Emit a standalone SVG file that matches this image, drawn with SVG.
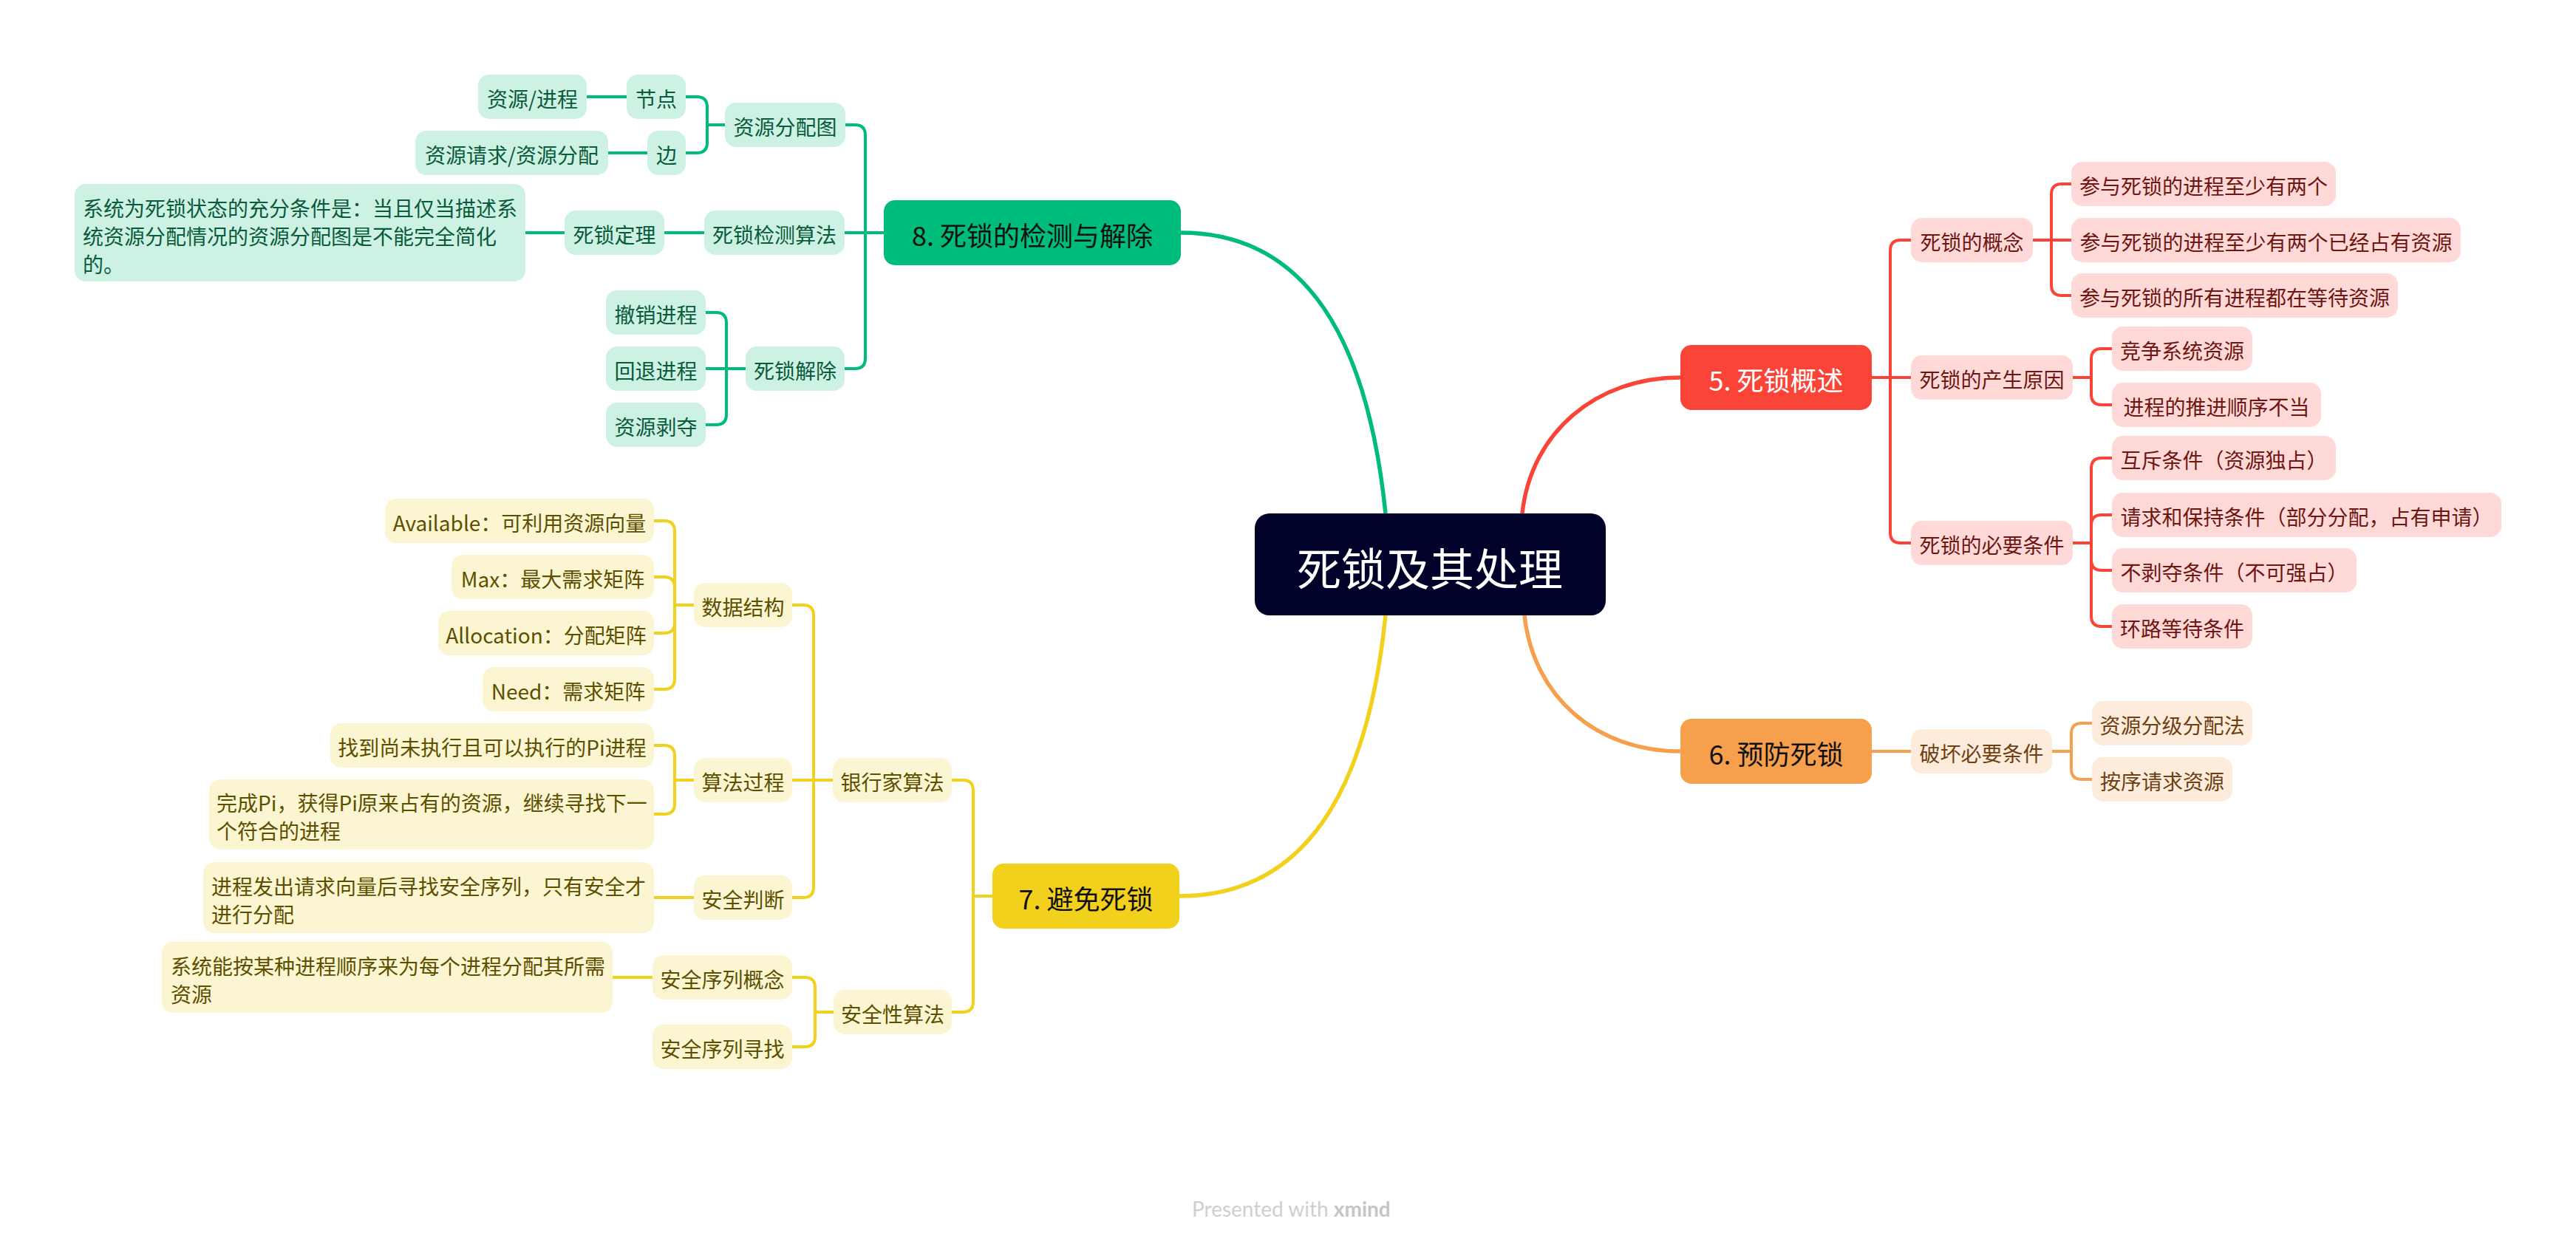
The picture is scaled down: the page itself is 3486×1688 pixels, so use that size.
<svg xmlns="http://www.w3.org/2000/svg" width="3486" height="1688" viewBox="0 0 3486 1688">
<style>
.bg{fill:#FFFFFF}
.t{font-family:"Noto Sans CJK SC","Noto Sans",sans-serif;font-size:28px;dominant-baseline:central;text-anchor:middle}
.tl{text-anchor:start}
.tb{font-family:"Noto Sans CJK SC","Noto Sans",sans-serif;font-size:36px;dominant-baseline:central;text-anchor:middle}
.tc{font-family:"Noto Sans CJK SC","Noto Sans",sans-serif;font-size:60px;dominant-baseline:central;text-anchor:middle;fill:#FFFFFF}
.ng rect{fill:#CDF2E4}.ng text{fill:#0A5A3C}
.nr rect{fill:#FED9D7}.nr text{fill:#6E1612}
.no rect{fill:#FDEBDB}.no text{fill:#6E3F12}
.ny rect{fill:#FCF5D2}.ny text{fill:#5C5000}
.lg{fill:none;stroke:#00BC7B;stroke-width:4}
.lr{fill:none;stroke:#FA4438;stroke-width:4}
.lo{fill:none;stroke:#F6A04D;stroke-width:4}
.ly{fill:none;stroke:#F2D11D;stroke-width:4}
.mc{stroke-width:5.5}
.foot{font-family:Lato,"Noto Sans",sans-serif;font-size:28px;fill:#CFCFCF}
</style>
<rect class="bg" x="0" y="0" width="3486" height="1688"/>
<g id="connectors">
<path class="lg mc" d="M1875 695 C1855 500 1790 315 1598 315"/>
<path class="lr mc" d="M2060 695 C2072 585 2160 511 2274 511"/>
<path class="ly mc" d="M1875 833 C1855 1028 1790 1213 1596 1213"/>
<path class="lo mc" d="M2063 833 C2075 943 2160 1017 2274 1017"/>
<path class="lg" d="M1196 315 H1171 V183 Q1171 169 1157 169 H1143"/>
<path class="lg" d="M1196 315 H1143"/>
<path class="lg" d="M1196 315 H1171 V485 Q1171 499 1157 499 H1143"/>
<path class="lg" d="M981 169 H957 V145 Q957 131 943 131 H928"/>
<path class="lg" d="M981 169 H957 V193 Q957 207 943 207 H928"/>
<path class="lg" d="M848 131 H794"/>
<path class="lg" d="M876 207 H823"/>
<path class="lg" d="M953 315 H899"/>
<path class="lg" d="M764 315 H711"/>
<path class="lg" d="M1009 499 H983 V437 Q983 423 969 423 H955"/>
<path class="lg" d="M1009 499 H955"/>
<path class="lg" d="M1009 499 H983 V561 Q983 575 969 575 H955"/>
<path class="lr" d="M2533 511 H2558 V339 Q2558 325 2572 325 H2586"/>
<path class="lr" d="M2533 511 H2586"/>
<path class="lr" d="M2533 511 H2558 V721 Q2558 735 2572 735 H2586"/>
<path class="lr" d="M2751 325 H2776 V263 Q2776 249 2790 249 H2803"/>
<path class="lr" d="M2751 325 H2803"/>
<path class="lr" d="M2751 325 H2776 V386 Q2776 400 2790 400 H2803"/>
<path class="lr" d="M2805 511 H2830 V486 Q2830 472 2844 472 H2858"/>
<path class="lr" d="M2805 511 H2830 V534 Q2830 548 2844 548 H2858"/>
<path class="lr" d="M2805 735 H2830 V634 Q2830 620 2844 620 H2858"/>
<path class="lr" d="M2805 735 H2830 V711 Q2830 697 2844 697 H2858"/>
<path class="lr" d="M2805 735 H2830 V758 Q2830 772 2844 772 H2858"/>
<path class="lr" d="M2805 735 H2830 V834 Q2830 848 2844 848 H2858"/>
<path class="lo" d="M2533 1017 H2586"/>
<path class="lo" d="M2777 1017 H2803 V993 Q2803 979 2817 979 H2831"/>
<path class="lo" d="M2777 1017 H2803 V1041 Q2803 1055 2817 1055 H2831"/>
<path class="ly" d="M1343 1213 H1317 V1070 Q1317 1056 1303 1056 H1288"/>
<path class="ly" d="M1343 1213 H1317 V1356 Q1317 1370 1303 1370 H1288"/>
<path class="ly" d="M1127 1056 H1101 V833 Q1101 819 1087 819 H1072"/>
<path class="ly" d="M1127 1056 H1072"/>
<path class="ly" d="M1127 1056 H1101 V1201 Q1101 1215 1087 1215 H1072"/>
<path class="ly" d="M939 819 H913 V719 Q913 705 899 705 H885"/>
<path class="ly" d="M939 819 H913 V795 Q913 781 899 781 H885"/>
<path class="ly" d="M939 819 H913 V843 Q913 857 899 857 H885"/>
<path class="ly" d="M939 819 H913 V919 Q913 933 899 933 H885"/>
<path class="ly" d="M939 1056 H913 V1023 Q913 1009 899 1009 H885"/>
<path class="ly" d="M939 1056 H913 V1088 Q913 1102 899 1102 H885"/>
<path class="ly" d="M939 1215 H885"/>
<path class="ly" d="M1128 1370 H1103 V1337 Q1103 1323 1089 1323 H1072"/>
<path class="ly" d="M1128 1370 H1103 V1403 Q1103 1417 1089 1417 H1072"/>
<path class="ly" d="M883 1323 H829"/>
</g>
<g id="center"><rect x="1698" y="695" width="475" height="138" rx="20" fill="#000229"/><text class="tc" x="1935" y="766">死锁及其处理</text></g>
<g id="b8"><rect x="1196" y="271" width="402" height="88" rx="15" fill="#00BC7B"/><text class="tb" x="1397" y="317" fill="#111111">8. 死锁的检测与解除</text></g>
<g id="b5"><rect x="2274" y="467" width="259" height="88" rx="15" fill="#FA4438"/><text class="tb" x="2403.5" y="513" fill="#FFFFFF">5. 死锁概述</text></g>
<g id="b6"><rect x="2274" y="973" width="259" height="88" rx="15" fill="#F6A04D"/><text class="tb" x="2403.5" y="1019" fill="#111111">6. 预防死锁</text></g>
<g id="b7"><rect x="1343" y="1169" width="253" height="88" rx="15" fill="#F2D11D"/><text class="tb" x="1469.5" y="1215" fill="#111111">7. 避免死锁</text></g>
<g id="g-zyfpt" class="ng"><rect x="981" y="139" width="163" height="60" rx="15"/><text class="t" x="1062.5" y="171">资源分配图</text></g>
<g id="g-jd" class="ng"><rect x="848" y="101" width="80" height="60" rx="15"/><text class="t" x="888" y="133">节点</text></g>
<g id="g-zyjc" class="ng"><rect x="647" y="101" width="147" height="60" rx="15"/><text class="t" x="720.5" y="133">资源/进程</text></g>
<g id="g-b" class="ng"><rect x="876" y="177" width="52" height="60" rx="15"/><text class="t" x="902" y="209">边</text></g>
<g id="g-zyqq" class="ng"><rect x="562" y="177" width="261" height="60" rx="15"/><text class="t" x="692.5" y="209">资源请求/资源分配</text></g>
<g id="g-jcsf" class="ng"><rect x="953" y="285" width="190" height="60" rx="15"/><text class="t" x="1048" y="317">死锁检测算法</text></g>
<g id="g-sdl" class="ng"><rect x="764" y="285" width="135" height="60" rx="15"/><text class="t" x="831.5" y="317">死锁定理</text></g>
<g id="g-sdlt" class="ng"><rect x="101" y="249" width="610" height="132" rx="15"/><text class="t tl" x="112" y="281">系统为死锁状态的充分条件是：当且仅当描述系</text><text class="t tl" x="112" y="319">统资源分配情况的资源分配图是不能完全简化</text><text class="t tl" x="112" y="357">的。</text></g>
<g id="g-sdjc" class="ng"><rect x="1009" y="469" width="134" height="60" rx="15"/><text class="t" x="1076" y="501">死锁解除</text></g>
<g id="g-cx" class="ng"><rect x="820" y="393" width="135" height="60" rx="15"/><text class="t" x="887.5" y="425">撤销进程</text></g>
<g id="g-ht" class="ng"><rect x="820" y="469" width="135" height="60" rx="15"/><text class="t" x="887.5" y="501">回退进程</text></g>
<g id="g-bd" class="ng"><rect x="820" y="545" width="135" height="60" rx="15"/><text class="t" x="887.5" y="577">资源剥夺</text></g>
<g id="r-gn" class="nr"><rect x="2586" y="295" width="165" height="60" rx="15"/><text class="t" x="2668.5" y="327">死锁的概念</text></g>
<g id="r-gn1" class="nr"><rect x="2803" y="219" width="358" height="60" rx="15"/><text class="t" x="2982" y="251">参与死锁的进程至少有两个</text></g>
<g id="r-gn2" class="nr"><rect x="2803" y="295" width="527" height="60" rx="15"/><text class="t" x="3066.5" y="327">参与死锁的进程至少有两个已经占有资源</text></g>
<g id="r-gn3" class="nr"><rect x="2803" y="370" width="442" height="60" rx="15"/><text class="t" x="3024" y="402">参与死锁的所有进程都在等待资源</text></g>
<g id="r-yy" class="nr"><rect x="2586" y="481" width="219" height="60" rx="15"/><text class="t" x="2695.5" y="513">死锁的产生原因</text></g>
<g id="r-yy1" class="nr"><rect x="2858" y="442" width="190" height="60" rx="15"/><text class="t" x="2953" y="474">竞争系统资源</text></g>
<g id="r-yy2" class="nr"><rect x="2858" y="518" width="283" height="60" rx="15"/><text class="t" x="2999.5" y="550">进程的推进顺序不当</text></g>
<g id="r-tj" class="nr"><rect x="2586" y="705" width="219" height="60" rx="15"/><text class="t" x="2695.5" y="737">死锁的必要条件</text></g>
<g id="r-tj1" class="nr"><rect x="2858" y="590" width="303" height="60" rx="15"/><text class="t" x="3009.5" y="622">互斥条件（资源独占）</text></g>
<g id="r-tj2" class="nr"><rect x="2858" y="667" width="527" height="60" rx="15"/><text class="t" x="3121.5" y="699">请求和保持条件（部分分配，占有申请）</text></g>
<g id="r-tj3" class="nr"><rect x="2858" y="742" width="331" height="60" rx="15"/><text class="t" x="3023.5" y="774">不剥夺条件（不可强占）</text></g>
<g id="r-tj4" class="nr"><rect x="2858" y="818" width="190" height="60" rx="15"/><text class="t" x="2953" y="850">环路等待条件</text></g>
<g id="o-ph" class="no"><rect x="2586" y="987" width="191" height="60" rx="15"/><text class="t" x="2681.5" y="1019">破坏必要条件</text></g>
<g id="o-fj" class="no"><rect x="2831" y="949" width="217" height="60" rx="15"/><text class="t" x="2939.5" y="981">资源分级分配法</text></g>
<g id="o-ax" class="no"><rect x="2831" y="1025" width="190" height="60" rx="15"/><text class="t" x="2926" y="1057">按序请求资源</text></g>
<g id="y-yhj" class="ny"><rect x="1127" y="1026" width="161" height="60" rx="15"/><text class="t" x="1207.5" y="1058">银行家算法</text></g>
<g id="y-sjjg" class="ny"><rect x="939" y="789" width="133" height="60" rx="15"/><text class="t" x="1005.5" y="821">数据结构</text></g>
<g id="y-av" class="ny"><rect x="521" y="675" width="364" height="60" rx="15"/><text class="t" x="703" y="707">Available：可利用资源向量</text></g>
<g id="y-max" class="ny"><rect x="611" y="751" width="274" height="60" rx="15"/><text class="t" x="748" y="783">Max：最大需求矩阵</text></g>
<g id="y-al" class="ny"><rect x="593" y="827" width="292" height="60" rx="15"/><text class="t" x="739" y="859">Allocation：分配矩阵</text></g>
<g id="y-nd" class="ny"><rect x="653" y="903" width="232" height="60" rx="15"/><text class="t" x="769" y="935">Need：需求矩阵</text></g>
<g id="y-sfgc" class="ny"><rect x="939" y="1026" width="133" height="60" rx="15"/><text class="t" x="1005.5" y="1058">算法过程</text></g>
<g id="y-gc1" class="ny"><rect x="447" y="979" width="438" height="60" rx="15"/><text class="t" x="666" y="1011">找到尚未执行且可以执行的Pi进程</text></g>
<g id="y-gc2" class="ny"><rect x="283" y="1055" width="602" height="95" rx="15"/><text class="t tl" x="293" y="1086">完成Pi，获得Pi原来占有的资源，继续寻找下一</text><text class="t tl" x="293" y="1124">个符合的进程</text></g>
<g id="y-aqpd" class="ny"><rect x="939" y="1185" width="133" height="60" rx="15"/><text class="t" x="1005.5" y="1217">安全判断</text></g>
<g id="y-pd1" class="ny"><rect x="275" y="1167" width="610" height="96" rx="15"/><text class="t tl" x="286" y="1199">进程发出请求向量后寻找安全序列，只有安全才</text><text class="t tl" x="286" y="1237">进行分配</text></g>
<g id="y-aqx" class="ny"><rect x="1128" y="1340" width="160" height="60" rx="15"/><text class="t" x="1208" y="1372">安全性算法</text></g>
<g id="y-gn" class="ny"><rect x="883" y="1293" width="189" height="60" rx="15"/><text class="t" x="977.5" y="1325">安全序列概念</text></g>
<g id="y-gn1" class="ny"><rect x="219" y="1275" width="610" height="96" rx="15"/><text class="t tl" x="231" y="1307">系统能按某种进程顺序来为每个进程分配其所需</text><text class="t tl" x="231" y="1345">资源</text></g>
<g id="y-xz" class="ny"><rect x="883" y="1387" width="189" height="60" rx="15"/><text class="t" x="977.5" y="1419">安全序列寻找</text></g>
<g id="footer"><text class="foot" x="1613" y="1647">Presented with <tspan font-weight="bold" fill="#C6C6C6">xmind</tspan></text></g>
</svg>
